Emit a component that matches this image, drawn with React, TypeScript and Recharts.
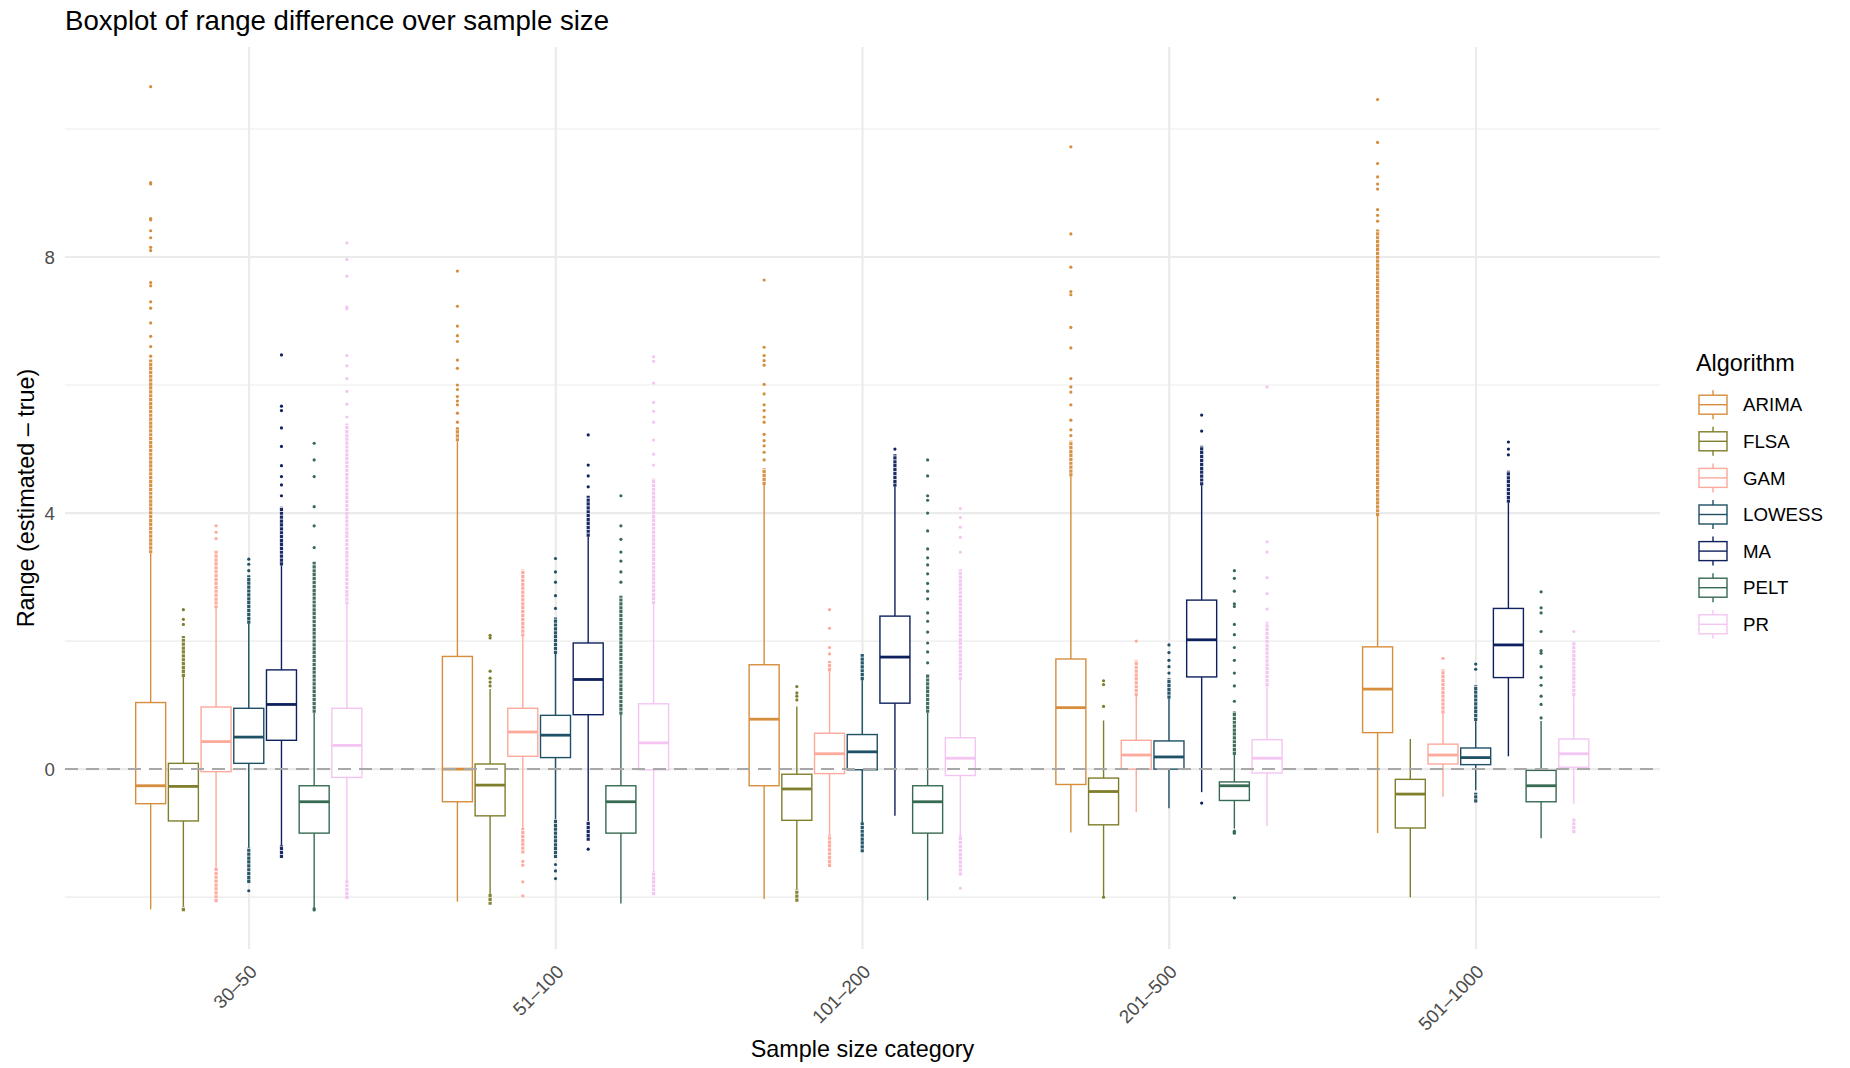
import React from 'react';
import { ComposedChart, Bar, XAxis, YAxis, CartesianGrid, ReferenceLine } from 'recharts';

const FONT = "'Liberation Sans', Arial, Helvetica, sans-serif";

const categories = ['30–50', '51–100', '101–200', '201–500', '501–1000'];
const algorithms = ['ARIMA', 'FLSA', 'GAM', 'LOWESS', 'MA', 'PELT', 'PR'];
const colors = ['#D68D3C', '#7F7E2C', '#FDA99B', '#1E5066', '#0E205E', '#376A52', '#F4C5F3'];

// [lower whisker, Q1, median, Q3, upper whisker] per category
const arimaStats = [[-2.19, -0.54, -0.26, 1.04, 3.37], [-2.07, -0.51, 0.0, 1.76, 5.12], [-2.03, -0.26, 0.78, 1.63, 4.44], [-0.99, -0.24, 0.96, 1.72, 4.57], [-1.0, 0.57, 1.25, 1.91, 3.95]];
const flsaStats = [[-2.15, -0.81, -0.27, 0.09, 1.44], [-1.95, -0.73, -0.25, 0.08, 1.25], [-1.88, -0.8, -0.31, -0.08, 0.98], [-1.99, -0.87, -0.35, -0.14, 0.76], [-2.0, -0.92, -0.39, -0.16, 0.47]];
const gamStats = [[-1.54, -0.04, 0.43, 0.97, 2.51], [-0.92, 0.2, 0.58, 0.95, 2.07], [-1.02, -0.07, 0.24, 0.56, 1.53], [-0.67, 0.0, 0.22, 0.45, 1.14], [-0.43, 0.08, 0.22, 0.39, 0.87]];
const lowessStats = [[-1.23, 0.09, 0.5, 0.95, 2.27], [-0.78, 0.18, 0.53, 0.84, 1.8], [-0.83, -0.01, 0.27, 0.54, 1.39], [-0.61, 0.0, 0.19, 0.44, 1.1], [-0.33, 0.07, 0.18, 0.33, 0.75]];
const maStats = [[-1.19, 0.45, 1.01, 1.55, 3.18], [-0.81, 0.85, 1.4, 1.97, 3.63], [-0.73, 1.03, 1.75, 2.39, 4.41], [-0.36, 1.44, 2.02, 2.64, 4.43], [0.2, 1.43, 1.94, 2.51, 4.16]];
const peltStats = [[-2.16, -1.0, -0.51, -0.26, 0.88], [-2.1, -1.0, -0.51, -0.26, 0.85], [-2.05, -1.0, -0.51, -0.26, 0.88], [-0.93, -0.49, -0.26, -0.2, 0.22], [-1.08, -0.51, -0.26, -0.02, 0.75]];
const prStats = [[-1.73, -0.13, 0.37, 0.95, 2.57], [-1.59, -0.01, 0.41, 1.02, 2.58], [-1.03, -0.1, 0.17, 0.49, 1.39], [-0.89, -0.06, 0.17, 0.46, 1.3], [-0.54, 0.03, 0.24, 0.47, 1.14]];

// individual outliers per category
const arimaOutliers = [
  [6.45, 6.6, 6.76, 6.97, 7.2, 7.3, 7.55, 7.6, 8.1, 8.15, 8.3, 8.41, 8.58, 8.6, 9.14, 9.16, 10.66],
  [5.42, 5.56, 5.69, 5.75, 5.82, 5.93, 6.0, 6.26, 6.39, 6.68, 6.77, 6.92, 7.23, 7.78],
  [4.83, 4.95, 5.05, 5.13, 5.23, 5.42, 5.5, 5.6, 5.69, 5.86, 6.01, 6.31, 6.38, 6.46, 6.59, 7.64],
  [5.21, 5.3, 5.45, 5.69, 5.89, 5.97, 6.1, 6.58, 6.9, 7.41, 7.46, 7.84, 8.36, 9.72],
  [8.56, 8.65, 8.74, 9.06, 9.14, 9.25, 9.46, 9.79, 10.46],
];
const flsaOutliers = [[2.26, 2.34, 2.49], [1.3, 1.36, 1.42, 1.53, 2.05, 2.09], [1.08, 1.14, 1.19, 1.29], [0.98, 1.32, 1.38, -2.0], []];
const gamOutliers = [[3.6, 3.7, 3.8], [-1.44, -1.5, -1.76, -1.98], [1.8, 1.9, 2.2, 2.49], [2.0], [1.73]];
const lowessOutliers = [[3.1, 3.2, 3.28, -1.9], [2.51, 2.71, 2.92, 3.08, 3.29, -1.49, -1.59, -1.71], [], [1.5, 1.6, 1.7, 1.82, 1.94], [1.56, 1.64]];
const maOutliers = [[4.27, 4.44, 4.57, 4.74, 5.04, 5.33, 5.6, 5.67, 6.47], [4.41, 4.58, 4.75, 5.22, -1.25], [5.0], [5.28, 5.53, -0.53], [4.91, 5.0, 5.11]];
const peltOutliers = [
  [3.46, 3.8, 4.1, 4.57, 4.83, 5.09, -2.18, -2.2],
  [2.92, 3.08, 3.25, 3.39, 3.59, 3.8, 4.27],
  [1.66, 1.83, 1.97, 2.14, 2.31, 2.44, 2.66, 2.78, 2.9, 3.05, 3.19, 3.3, 3.44, 3.72, 4.0, 4.2, 4.27, 4.58, 4.83],
  [1.06, 1.3, 1.5, 1.7, 1.9, 2.1, 2.26, 2.54, 2.58, 2.78, 2.98, 3.1, -0.97, -0.99, -1.0, -2.01],
  [0.8, 1.01, 1.14, 1.31, 1.43, 1.6, 1.81, 1.85, 2.15, 2.44, 2.52, 2.77],
];
const prOutliers = [
  [5.5, 5.7, 5.9, 6.1, 6.3, 6.46, 7.19, 7.22, 7.7, 7.96, 8.22],
  [4.75, 4.92, 5.14, 5.42, 5.59, 5.73, 6.03, 6.37, 6.44],
  [3.39, 3.62, 3.78, 3.93, 4.07, -1.86],
  [2.5, 2.74, 2.99, 3.39, 3.55, 5.97],
  [2.15],
];

// runs of overlapping outliers [from, to] per category
const arimaRuns = [[[3.37, 6.4]], [[5.12, 5.34]], [[4.44, 4.7]], [[4.57, 5.13]], [[3.95, 8.43]]];
const flsaRuns = [[[1.44, 2.08], [-2.22, -2.15]], [[-2.12, -1.95]], [[-2.07, -1.88]], [], []];
const gamRuns = [[[2.51, 3.41], [-2.08, -1.54]], [[2.07, 3.12], [-1.32, -0.92]], [[1.53, 1.69], [-1.53, -1.02]], [[1.14, 1.7]], [[0.87, 1.56]]];
const lowessRuns = [[[2.27, 3.03], [-1.78, -1.23]], [[1.8, 2.37], [-1.39, -0.78]], [[1.39, 1.8], [-1.3, -0.83]], [[1.1, 1.42]], [[0.75, 1.31], [-0.52, -0.37]]];
const maRuns = [[[3.18, 4.1], [-1.39, -1.19]], [[3.63, 4.27], [-1.12, -0.81]], [[4.41, 4.92]], [[4.43, 5.05]], [[4.16, 4.66]]];
const peltRuns = [[[0.88, 3.24]], [[0.85, 2.71]], [[0.88, 1.49]], [[0.22, 0.9]], []];
const prRuns = [[[2.57, 5.4], [-2.03, -1.73]], [[2.58, 4.54], [-1.97, -1.59]], [[1.39, 3.12], [-1.66, -1.03]], [[1.3, 2.3]], [[1.14, 1.98], [-1.0, -0.77]]];

const yTicks = [0, 4, 8];
const yMinorGrid = [-2, 2, 6, 10];
const yDomain = [-2.81, 11.28];

const statsByAlg: Record<string, number[][]> = { ARIMA: arimaStats, FLSA: flsaStats, GAM: gamStats, LOWESS: lowessStats, MA: maStats, PELT: peltStats, PR: prStats };
const outByAlg: Record<string, number[][]> = { ARIMA: arimaOutliers, FLSA: flsaOutliers, GAM: gamOutliers, LOWESS: lowessOutliers, MA: maOutliers, PELT: peltOutliers, PR: prOutliers };
const runsByAlg: Record<string, number[][][]> = { ARIMA: arimaRuns, FLSA: flsaRuns, GAM: gamRuns, LOWESS: lowessRuns, MA: maRuns, PELT: peltRuns, PR: prRuns };

const data = categories.map((c, i) => {
  const row: any = { category: c };
  algorithms.forEach((a) => {
    const s = statsByAlg[a][i];
    row[a] = [s[0], s[4]];
    row[a + '_s'] = s;
    row[a + '_o'] = outByAlg[a][i];
    row[a + '_r'] = runsByAlg[a][i];
  });
  return row;
});

const makeShape = (alg: string, color: string) => (props: any) => {
  const { x, y, width, height, payload } = props;
  const s = payload[alg + '_s'];
  const outs: number[] = payload[alg + '_o'] || [];
  const runs: number[][] = payload[alg + '_r'] || [];
  const top = Math.min(y, y + height);
  const bot = Math.max(y, y + height);
  const lo = s[0];
  const hi = s[4];
  const py = (v: number) => bot - ((v - lo) / (hi - lo)) * (bot - top);
  const cx = x + width / 2;
  const lw = 1.4;
  return (
    <g>
      <line x1={cx} x2={cx} y1={py(s[4])} y2={py(s[3])} stroke={color} strokeWidth={lw} />
      <line x1={cx} x2={cx} y1={py(s[1])} y2={py(s[0])} stroke={color} strokeWidth={lw} />
      <rect x={x} y={py(s[3])} width={width} height={py(s[1]) - py(s[3])} fill="#FFFFFF" stroke={color} strokeWidth={lw} />
      <line x1={x} x2={x + width} y1={py(s[2])} y2={py(s[2])} stroke={color} strokeWidth={2.8} />
      {runs.map((r, k) => (
        <line key={'r' + k} x1={cx} x2={cx} y1={py(r[0])} y2={py(r[1])} stroke={color} strokeWidth={3.2} strokeDasharray="3.2 0.7" opacity={0.95} />
      ))}
      {outs.map((v, k) => (
        <circle key={'o' + k} cx={cx} cy={py(v)} r={1.6} fill={color} />
      ))}
    </g>
  );
};

const XTick = (props: any) => {
  const { x, y, payload } = props;
  const tx = x + 9;
  const ty = y + 24;
  return (
    <text x={tx} y={ty} transform={`rotate(-45, ${tx}, ${ty})`} textAnchor="end" fontSize={18.7} fill="#4D4D4D" fontFamily={FONT}>
      {payload.value}
    </text>
  );
};

export default function App() {
  const legendTop = 404.7;
  const legendStep = 36.6;
  return (
    <div style={{ position: 'absolute', left: 0, top: 0, width: 1850, height: 1068, background: '#FFFFFF', fontFamily: FONT }}>
      <ComposedChart width={1850} height={1068} data={data} margin={{ top: 47, right: 190, bottom: 0, left: 0 }} barGap={2.7}>
        <CartesianGrid horizontal={true} vertical={false} horizontalValues={yMinorGrid} stroke="#EBEBEB" strokeWidth={1.1} />
        <CartesianGrid horizontal={true} vertical={true} horizontalValues={yTicks} verticalValues={categories} stroke="#EBEBEB" strokeWidth={2.2} />
        <XAxis dataKey="category" type="category" padding={{ left: 30.67, right: 30.67 }} height={119} tickLine={false} axisLine={false} tickSize={0} tickMargin={0} tick={<XTick />} interval={0} />
        <YAxis type="number" domain={yDomain} ticks={yTicks} width={65} tickLine={false} axisLine={false} tickSize={0} tickMargin={10} allowDataOverflow={true} tick={{ fontSize: 18.7, fill: '#4D4D4D', fontFamily: FONT }} />
        {algorithms.map((a, i) => (
          <Bar key={a} dataKey={a} barSize={30} isAnimationActive={false} shape={makeShape(a, colors[i])} />
        ))}
        <ReferenceLine y={0} stroke="#A8A8A8" strokeWidth={2} strokeDasharray="13 8" />
      </ComposedChart>
      <svg width={1850} height={1068} style={{ position: 'absolute', left: 0, top: 0, pointerEvents: 'none' }}>
        <text x={65} y={30} fontSize={27.6} fill="#000000" fontFamily={FONT}>Boxplot of range difference over sample size</text>
        <text x={862.5} y={1057} fontSize={23.4} fill="#000000" textAnchor="middle" fontFamily={FONT}>Sample size category</text>
        <text x={34} y={498} fontSize={23.4} fill="#000000" textAnchor="middle" transform="rotate(-90, 34, 498)" fontFamily={FONT}>Range (estimated – true)</text>
        <text x={1696} y={371} fontSize={23.4} fill="#000000" fontFamily={FONT}>Algorithm</text>
        {algorithms.map((a, i) => {
          const cy = legendTop + i * legendStep;
          return (
            <g key={a}>
              <line x1={1713} x2={1713} y1={cy - 14.5} y2={cy + 14.5} stroke={colors[i]} strokeWidth={1.4} />
              <rect x={1699} y={cy - 9.5} width={28} height={19} fill="#FFFFFF" stroke={colors[i]} strokeWidth={1.4} />
              <line x1={1699} x2={1727} y1={cy} y2={cy} stroke={colors[i]} strokeWidth={1.4} />
              <text x={1743} y={cy + 6.7} fontSize={18.7} fill="#000000" fontFamily={FONT}>{a}</text>
            </g>
          );
        })}
      </svg>
    </div>
  );
}
